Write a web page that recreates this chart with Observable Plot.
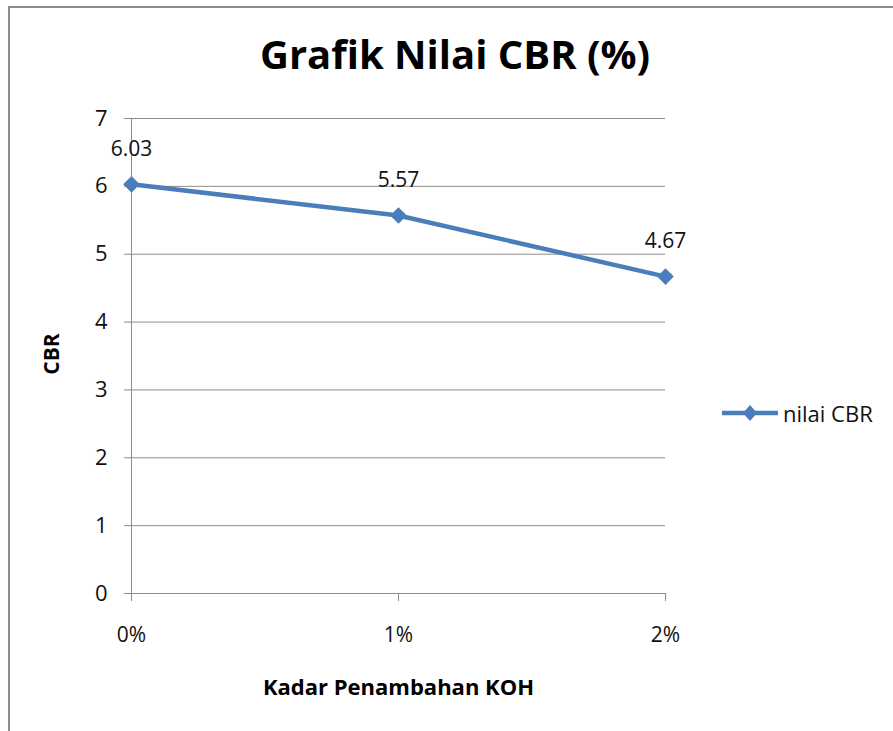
<!DOCTYPE html>
<html>
<head>
<meta charset="utf-8">
<script src="https://cdn.jsdelivr.net/npm/d3@7"></script>
<script src="https://cdn.jsdelivr.net/npm/@observablehq/plot@0.6"></script>
<style>
  html, body { margin: 0; padding: 0; background: #fff; }
  #wrap { position: relative; width: 893px; height: 731px; overflow: hidden; font-family: "Open Sans", sans-serif; }
  #frame { position: absolute; left: 8px; top: 6px; width: 900px; height: 740px; border-left: 2px solid #8c8c8c; border-top: 2px solid #8c8c8c; }
  #chart { position: absolute; left: 0; top: 0; }
  #title { position: absolute; left: 0; width: 910px; top: 34px; text-align: center; font-weight: bold; font-size: 40px; color: #000; line-height: 1; }
  #xlabel { position: absolute; left: 0; width: 797px; top: 675px; text-align: center; font-weight: bold; font-size: 22px; color: #000; line-height: 1; }
  #ylabel { position: absolute; left: 51px; top: 354px; transform: translate(-50%, -50%) rotate(-90deg); font-weight: bold; font-size: 21px; color: #000; white-space: nowrap; line-height: 1; }
  #legend { position: absolute; left: 720px; top: 398px; display: flex; align-items: center; font-size: 22px; color: #111; }
  #legend svg { margin-right: 3px; }
</style>
</head>
<body>
<div id="wrap">
  <div id="frame"></div>
  <div id="chart"></div>
  <div id="title">Grafik Nilai CBR (%)</div>
  <div id="ylabel">CBR</div>
  <div id="xlabel">Kadar Penambahan KOH</div>
  <div id="legend"></div>
</div>
<script>
const categories = ["0%", "1%", "2%"];
const cbrValues = [6.03, 5.57, 4.67];
const yTicks = [0, 1, 2, 3, 4, 5, 6, 7];
const seriesName = "nilai CBR";
const lineColor = "#4A7EBB";

const data = categories.map((c, i) => ({ cat: c, v: cbrValues[i] }));

const chart = Plot.plot({
  width: 893,
  height: 731,
  marginLeft: 131,
  marginRight: 228,
  marginTop: 118,
  marginBottom: 138,
  style: { fontFamily: "Open Sans, sans-serif", background: "transparent" },
  x: { type: "point", domain: categories, padding: 0 },
  y: { domain: [0, 7] },
  marks: [
    Plot.gridY(yTicks, { stroke: "#8c8c8c", strokeOpacity: 1, strokeWidth: 1 }),
    Plot.ruleX([categories[0]], { y1: 0, y2: 7, stroke: "#8c8c8c", strokeWidth: 1 }),
    Plot.axisY(yTicks, { tickSize: 7, tickPadding: 17, tickFormat: d => String(d), stroke: "#8c8c8c", fill: "#111", fontSize: 22, label: null }),
    Plot.axisX(categories, { tickSize: 8, tickPadding: 26, stroke: "#8c8c8c", fill: "#111", fontSize: 21, label: null }),
    Plot.line(data, { x: "cat", y: "v", stroke: lineColor, strokeWidth: 4.5 }),
    Plot.dot(data, { x: "cat", y: "v", symbol: "diamond2", r: 7.5, fill: lineColor, stroke: "none" }),
    Plot.text(data, { x: "cat", y: "v", text: d => d.v.toFixed(2), dy: -35, fontSize: 21, fill: "#111", style: "letter-spacing:1px" })
  ]
});
document.getElementById("chart").appendChild(chart);

const leg = document.getElementById("legend");
leg.innerHTML = `<svg width="60" height="30"><line x1="2" y1="15" x2="58" y2="15" stroke="${lineColor}" stroke-width="4.5"/><path d="M30,7 L37,15 L30,23 L23,15 Z" fill="${lineColor}"/></svg><span>${seriesName}</span>`;
</script>
</body>
</html>
